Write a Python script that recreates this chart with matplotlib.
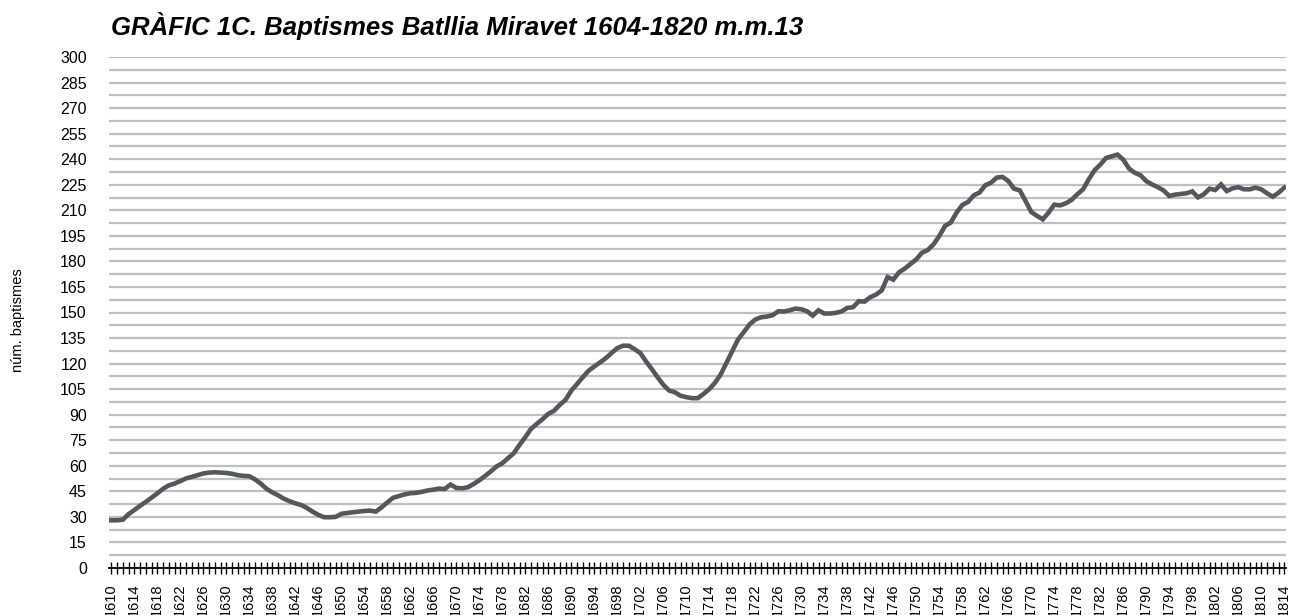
import matplotlib
matplotlib.use("Agg")
import matplotlib.pyplot as plt
from matplotlib.ticker import MultipleLocator

plt.rcParams["font.family"] = ["Liberation Sans", "DejaVu Sans"]

TITLE = "GRÀFIC 1C. Baptismes Batllia Miravet 1604-1820 m.m.13"
YLABEL = "núm. baptismes"

# years 1610..1814, moving average m.m.13
years = list(range(1610, 1815))
baptisms = [
    28, 28, 28.3, 31.6, 34, 36.5, 38.8, 41.3, 43.8, 46.5,            # 1610-1619
    48.5, 49.6, 51, 52.6, 53.5, 54.5, 55.5, 56, 56.2, 56,            # 1620-1629
    55.8, 55.3, 54.5, 54.1, 53.9, 52, 49.5, 46.5, 44.4, 42.7,        # 1630-1639
    40.7, 39.2, 38, 37, 35.3, 33.1, 31.2, 29.8, 29.8, 30,            # 1640-1649
    31.8, 32.3, 32.7, 33.1, 33.5, 33.7, 33.1, 35.6, 38.5, 41.2,      # 1650-1659
    42.2, 43.2, 43.9, 44.1, 44.7, 45.5, 46, 46.6, 46.4, 49,          # 1660-1669
    47, 46.8, 47.4, 49.3, 51.5, 54, 56.7, 59.6, 61.5, 64.5,          # 1670-1679
    67.4, 72.3, 76.8, 81.7, 84.6, 87.4, 90.5, 92.3, 95.8, 98.7,      # 1680-1689
    104.2, 108, 112, 115.8, 118.3, 120.7, 123.2, 126.2, 129.1, 130.5,  # 1690-1699
    130.5, 128.5, 126.2, 121.3, 116.8, 112, 107.6, 104.2, 103.2, 101.1,  # 1700-1709
    100.3, 99.7, 99.7, 102.2, 105, 108.8, 113.7, 120.5, 127.3, 134.2,  # 1710-1719
    138.5, 143, 145.9, 147.2, 147.6, 148.4, 150.7, 150.6, 151.3, 152.3,  # 1720-1729
    151.9, 150.7, 148.2, 151.3, 149.4, 149.4, 149.8, 150.6, 152.7, 153.1,  # 1730-1739
    156.6, 156.4, 159, 160.5, 163, 170.8, 169.3, 173.6, 175.8, 178.5,  # 1740-1749
    181.2, 185.1, 186.7, 190, 194.9, 200.8, 202.8, 208.6, 213.1, 214.9,  # 1750-1759
    218.8, 220.4, 224.7, 226.2, 229.2, 229.6, 227.2, 222.7, 221.7, 215.5,  # 1760-1769
    209, 206.7, 204.7, 208.6, 213.3, 212.9, 214.1, 216.1, 219.4, 222.3,  # 1770-1779
    228.2, 233.5, 236.8, 240.7, 241.7, 242.7, 239.7, 234.5, 232, 230.6,  # 1780-1789
    227.1, 225.2, 223.6, 221.7, 218.4, 219.2, 219.6, 220, 221.1, 217.6,  # 1790-1799
    219.4, 222.7, 221.9, 225.2, 221.3, 222.9, 223.6, 222.3, 222.3, 223.3,  # 1800-1809
    222.3, 220, 218, 220.3, 223.3,                                   # 1810-1814
]
label_years = list(range(1610, 1815, 4))

LINE_C, GRID_C = "#54585d", "#bfbfbf"

fig = plt.figure(figsize=(12.93, 6.15), dpi=100)
ax = fig.add_axes([109 / 1293, 47 / 615, 1177 / 1293, 511 / 615])

ax.plot(years, baptisms, color=LINE_C, lw=3.3, solid_joinstyle="miter", zorder=3)

ax.set_xlim(1609.6, 1814.3)
ax.set_ylim(0, 300)
ax.yaxis.set_major_locator(MultipleLocator(15))
ax.yaxis.set_minor_locator(MultipleLocator(7.5))
ax.grid(axis="y", which="both", color=GRID_C, lw=1.6, zorder=1)
ax.tick_params(axis="y", which="both", length=0, labelsize=11.5, pad=16)

ax.set_xticks(years)
ax.set_xticklabels([str(y) if y in label_years else "" for y in years], rotation=90)
ax.tick_params(axis="x", direction="inout", length=8, width=1, labelsize=10.5, pad=7)

for s in ("top", "right", "left"):
    ax.spines[s].set_visible(False)
ax.spines["bottom"].set_color("black")
ax.spines["bottom"].set_linewidth(1.3)
ax.spines["bottom"].set_zorder(4)

fig.text(111 / 1293, 1 - 35 / 615, TITLE, fontsize=18.5, fontweight="bold",
         fontstyle="italic", ha="left", va="baseline")
fig.text(18 / 1293, 1 - 320 / 615, YLABEL, rotation=90, fontsize=10.5,
         ha="center", va="center")

fig.savefig("out.png", dpi=100)
